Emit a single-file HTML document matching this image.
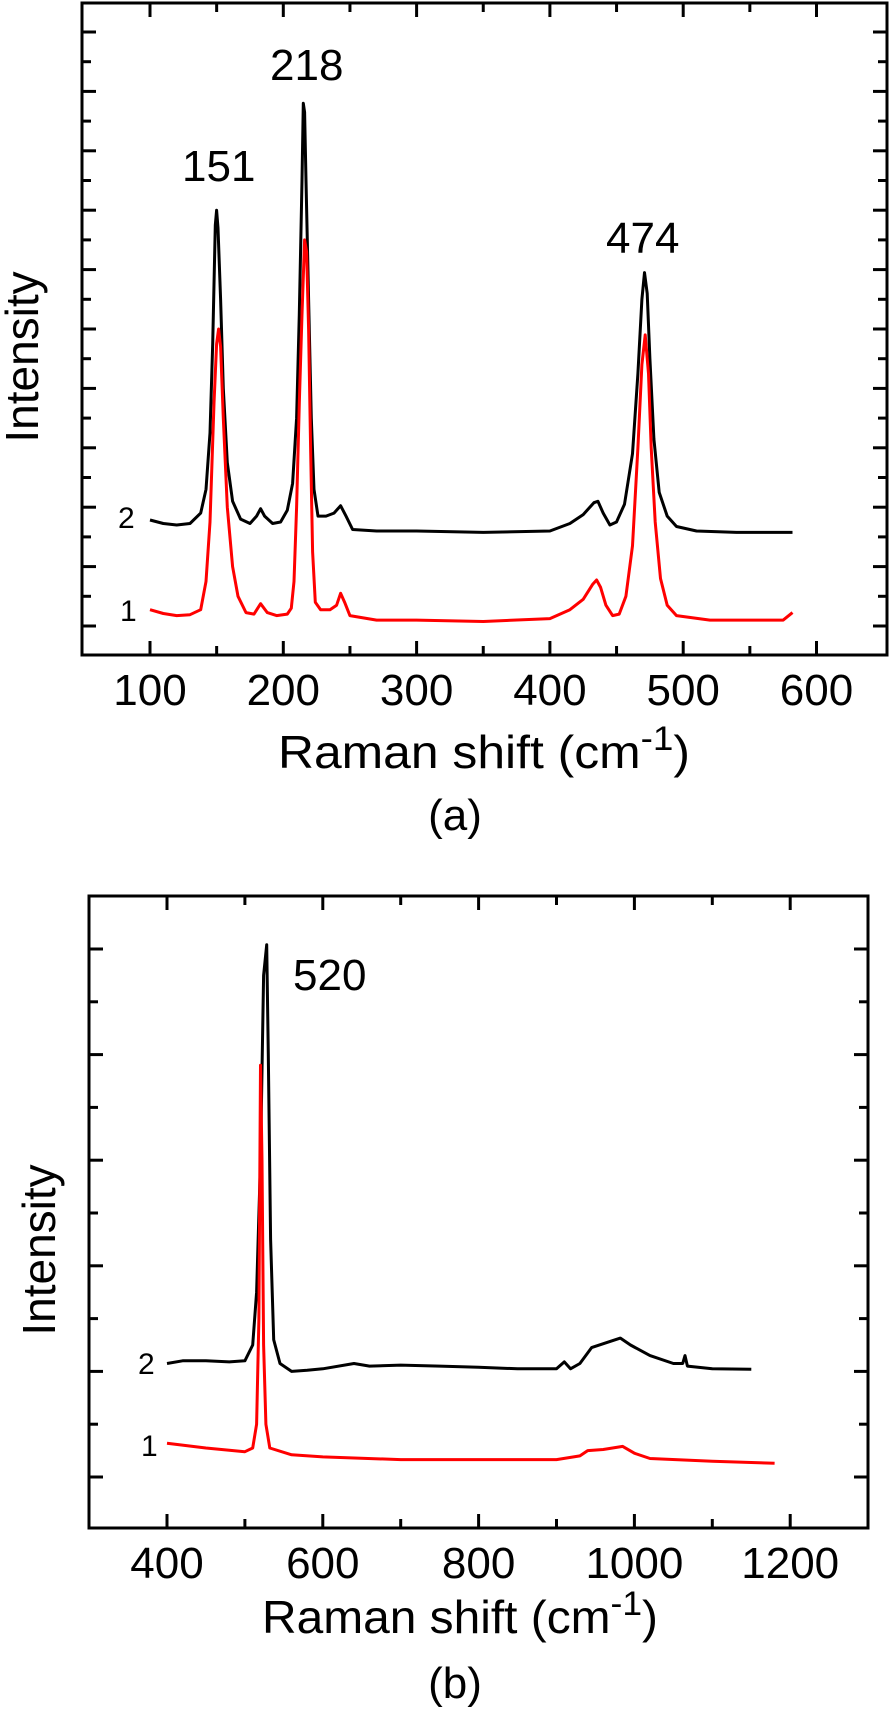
<!DOCTYPE html>
<html><head><meta charset="utf-8">
<style>
html,body{margin:0;padding:0;background:#fff;}
svg{display:block;font-family:"Liberation Sans",Arial,sans-serif;}
</style></head>
<body>
<svg id="fig" width="891" height="1711" viewBox="0 0 891 1711" xmlns="http://www.w3.org/2000/svg">
<g id="pa"></g>
<g id="pb"></g>
</svg>
<script>
// Panel (a) data
const aXTicks = [100,150,200,250,300,350,400,450,500,550,600];
const aXLabels = ["100","200","300","400","500","600"];
const aBlackX = [100,110,120,130,138,142,145,147,149,150,151,153,155,158,162,168,175,180,183,186,192,198,203,207,210,212,214,215,216,217,219,221,223,226,232,238,243,247,252,270,300,350,400,415,425,433,436,440,445,450,456,462,466,469,471,473,475,478,482,488,495,510,540,582];
const aBlackY = [3.57,3.45,3.4,3.45,3.8,4.6,6.5,9.5,13.5,14.0,13.4,11,8,5.5,4.2,3.6,3.45,3.7,3.95,3.7,3.45,3.5,3.9,4.8,7,10.5,15,17.6,17.3,15,11,7,4.6,3.7,3.7,3.8,4.05,3.7,3.25,3.2,3.2,3.15,3.2,3.45,3.75,4.15,4.2,3.8,3.4,3.5,4.1,5.8,8.5,11,11.9,11.2,9,6.3,4.5,3.7,3.35,3.2,3.15,3.15];
const aRedX = [100,110,120,130,138,142,145,148,150,151.5,153,155,158,162,166,172,178,183,188,195,203,206,208,210,212,214,216,217.5,219,220.5,222,224,228,235,240,243,246,250,270,300,350,400,415,425,432,435,438,442,447,452,457,462,466,469,471.5,474,476,479,483,488,495,520,560,575,582];
const aRedY = [0.55,0.42,0.35,0.38,0.55,1.5,3.5,7.5,9.5,10.0,9.4,7,4,2,1.0,0.45,0.4,0.75,0.45,0.35,0.4,0.6,1.5,4,7.5,10.5,13.0,12.6,10,6,2.5,0.8,0.55,0.55,0.7,1.1,0.8,0.35,0.2,0.2,0.15,0.25,0.55,0.9,1.4,1.55,1.3,0.7,0.35,0.4,1.0,2.7,6,8.8,9.8,8.5,6,3.5,1.6,0.7,0.35,0.2,0.2,0.2,0.45];
// Panel (b) data
const bXTicks = [400,500,600,700,800,900,1000,1100,1200];
const bXLabels = ["400","600","800","1000","1200"];
const bBlackX = [400,420,450,480,500,510,515,520,524,528,530,533,537,545,560,580,600,640,660,700,750,800,850,900,910,918,930,945,965,982,995,1020,1050,1062,1065,1068,1100,1150];
const bBlackY = [2.15,2.2,2.2,2.18,2.2,2.5,3.5,6,9.5,10.08,8,4.5,2.6,2.15,2.0,2.02,2.05,2.15,2.1,2.12,2.1,2.08,2.05,2.05,2.18,2.05,2.15,2.45,2.55,2.63,2.5,2.3,2.15,2.15,2.3,2.1,2.05,2.04];
const bRedX = [400,450,500,510,515,518,520,522,524,527,532,560,600,700,800,900,930,940,960,985,1000,1020,1100,1180];
const bRedY = [0.64,0.55,0.48,0.55,1.0,3,7.8,6,2.5,1,0.55,0.42,0.38,0.33,0.33,0.33,0.4,0.5,0.52,0.58,0.45,0.35,0.3,0.26];

const NS = "http://www.w3.org/2000/svg";
function mk(parent, tag, attrs, text){
  const e = document.createElementNS(NS, tag);
  for (const k in attrs) e.setAttribute(k, attrs[k]);
  if (text !== undefined) e.textContent = text;
  parent.appendChild(e);
  return e;
}

function drawPanel(g, cfg){
  const sx = v => cfg.x0 + (v - cfg.xv0) * cfg.kx;
  const sy = u => cfg.yb - u * cfg.ky;
  // frame
  const fr = mk(g, "rect", {x:cfg.L, y:cfg.T, width:cfg.R-cfg.L, height:cfg.B-cfg.T, fill:"none", stroke:"#000", "stroke-width":3});
  
  
  // x ticks
  cfg.xTicks.forEach((v,i)=>{
    const len = (i % 2 === 0) ? 14 : 9;
    const x = sx(v);
    const t1 = mk(g, "line", {x1:x, x2:x, y1:cfg.B, y2:cfg.B-len, stroke:"#000", "stroke-width":3});
    
    
    const t2 = mk(g, "line", {x1:x, x2:x, y1:cfg.T, y2:cfg.T+len, stroke:"#000", "stroke-width":3});
    
    
  });
  cfg.xLabels.forEach((s)=>{
    const x = sx(parseFloat(s));
    const t = mk(g, "text", {x:x, y:cfg.B+50, "font-size":44, "text-anchor":"middle", fill:"#000"}, s);
    
    
  });
  // y ticks
  for (let i=0;i<=cfg.nY;i++){
    const y = sy(i);
    const len = (i % 2 === 0) ? 14 : 9;
    const a = mk(g, "line", {x1:cfg.L, x2:cfg.L+len, y1:y, y2:y, stroke:"#000", "stroke-width":3});
    
    
    const b = mk(g, "line", {x1:cfg.R, x2:cfg.R-len, y1:y, y2:y, stroke:"#000", "stroke-width":3});
    
    
  }
  // series
  function series(xs, ys, color, name){
    const pts = xs.map((v,i)=> sx(v).toFixed(1)+","+sy(ys[i]).toFixed(1)).join(" ");
    const p = mk(g, "polyline", {points:pts, fill:"none", stroke:color, "stroke-width":3, "stroke-linejoin":"round"});
    
    
  }
  series(cfg.bx, cfg.by, "#000", "series-2-black");
  series(cfg.rx, cfg.ry, "#ff0000", "series-1-red");
  // axis titles
  const xt = mk(g, "text", {x:cfg.xtX, y:cfg.xtY, "font-size":46, textLength:cfg.xtW, lengthAdjust:"spacingAndGlyphs", fill:"#000"});
  
  
  xt.appendChild(document.createTextNode("Raman shift (cm"));
  const sup = mk(xt, "tspan", {dy:-18, "font-size":34}, "-1");
  mk(xt, "tspan", {dy:18}, ")");
  const yt = mk(g, "text", {x:0, y:0, "font-size":46, "text-anchor":"middle", transform:`translate(${cfg.ytX},${cfg.ytY}) rotate(-90)`, fill:"#000"}, "Intensity");
  
  
  const cap = mk(g, "text", {x:cfg.capX, y:cfg.capY, "font-size":44, "text-anchor":"middle", fill:"#000"}, cfg.cap);
  
  
  cfg.labels.forEach(l=>{
    const t = mk(g, "text", {x:l[0], y:l[1], "font-size":l[3], fill:"#000"}, l[2]);
    
    
  });
}

drawPanel(document.getElementById("pa"), {
  L:82, R:887, T:3, B:655,
  x0:150, xv0:100, kx:1.333, yb:626, ky:29.7, nY:20,
  xTicks:aXTicks, xLabels:aXLabels,
  bx:aBlackX, by:aBlackY, rx:aRedX, ry:aRedY,
  xtX:278, xtY:768, xtW:412, ytX:38, ytY:357,
  capX:455, capY:830, cap:"(a)",
  labels:[[182,181,"151",44,"peak-label-151"],[270,80,"218",44,"peak-label-218"],[606,253,"474",44,"peak-label-474"],[118,528,"2",30,"curve-label-2"],[120,621,"1",30,"curve-label-1"]]
});
drawPanel(document.getElementById("pb"), {
  L:89, R:868, T:896, B:1528,
  x0:167, xv0:400, kx:0.779, yb:1477, ky:52.8, nY:10,
  xTicks:bXTicks, xLabels:bXLabels,
  bx:bBlackX, by:bBlackY, rx:bRedX, ry:bRedY,
  xtX:262, xtY:1633, xtW:396, ytX:55, ytY:1250,
  capX:455, capY:1698, cap:"(b)",
  labels:[[293,990,"520",44,"peak-label-520"],[138,1374,"2",30,"curve-label-2"],[141,1456,"1",30,"curve-label-1"]]
});
</script>
</body></html>
